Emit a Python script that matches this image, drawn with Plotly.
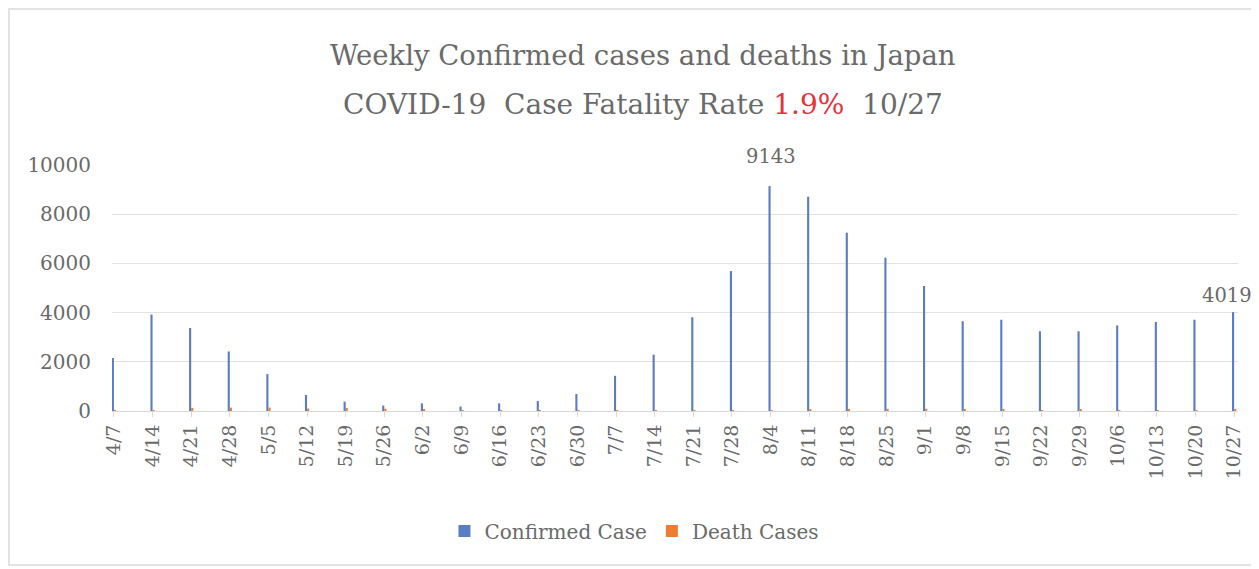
import plotly.graph_objects as go

weeks = ["4/7", "4/14", "4/21", "4/28", "5/5", "5/12", "5/19", "5/26", "6/2", "6/9",
         "6/16", "6/23", "6/30", "7/7", "7/14", "7/21", "7/28", "8/4", "8/11", "8/18",
         "8/25", "9/1", "9/8", "9/15", "9/22", "9/29", "10/6", "10/13", "10/20", "10/27"]
confirmed = [2150, 3920, 3375, 2420, 1500, 650, 380, 220, 310, 180,
             310, 410, 690, 1430, 2290, 3810, 5690, 9143, 8710, 7250,
             6230, 5080, 3650, 3710, 3240, 3240, 3480, 3620, 3710, 4019]
deaths = [30, 40, 127, 137, 140, 100, 120, 90, 50, 20,
          10, 30, 12, 8, 5, 5, 10, 20, 50, 70,
          90, 90, 80, 60, 40, 50, 40, 40, 40, 50]
y_ticks = [0, 2000, 4000, 6000, 8000, 10000]
labelled = [weeks[confirmed.index(max(confirmed))], weeks[-1]]

FONT = "DejaVu Serif"
GREY = "#6a6a6a"
BLUE = "#5b7dc4"
ORANGE = "#ed7d31"

fig = go.Figure()
fig.add_trace(go.Bar(x=weeks, y=confirmed, name="Confirmed Case", showlegend=False,
                     marker=dict(color=BLUE, line=dict(width=0))))
fig.add_trace(go.Bar(x=weeks, y=deaths, name="Death Cases", showlegend=False,
                     marker=dict(color=ORANGE, line=dict(width=0))))
# legend entries with square swatches
fig.add_trace(go.Scatter(x=[None], y=[None], mode="markers", name="Confirmed Case",
                         marker=dict(symbol="square", size=9, color=BLUE)))
fig.add_trace(go.Scatter(x=[None], y=[None], mode="markers", name="Death Cases",
                         marker=dict(symbol="square", size=9, color=ORANGE)))

shifts = {labelled[0]: (0, 30), labelled[1]: (-7, 17)}
for wk in labelled:
    v = confirmed[weeks.index(wk)]
    dx, dy = shifts[wk]
    fig.add_annotation(x=wk, y=v, text=str(v), showarrow=False, xshift=dx, yshift=dy,
                       font=dict(family=FONT, size=19.5, color=GREY), yanchor="middle")

# title
fig.add_annotation(xref="paper", yref="paper", x=0.472, y=1.447, showarrow=False,
                   xanchor="center", yanchor="middle",
                   text="Weekly Confirmed cases and deaths in Japan",
                   font=dict(family=FONT, size=27.5, color=GREY))
fig.add_annotation(xref="paper", yref="paper", x=0.472, y=1.244, showarrow=False,
                   xanchor="center", yanchor="middle",
                   text="COVID-19  Case Fatality Rate <span style='color:#e8313c'>1.9%</span>  10/27",
                   font=dict(family=FONT, size=28, color=GREY))

# outer border
fig.add_shape(type="rect", xref="paper", yref="paper", x0=-0.0915, x1=1.0124,
              y0=-0.626, y1=1.634, line=dict(color="#d9d9d9", width=1.5), layer="below")

fig.update_layout(
    width=1251, height=561,
    margin=dict(l=104, r=21, t=157, b=158),
    paper_bgcolor="white", plot_bgcolor="white",
    barmode="group", bargap=0.89, bargroupgap=0,
    showlegend=True,
    legend=dict(orientation="h", x=0.464, xanchor="center", y=-0.488, yanchor="middle",
                font=dict(family=FONT, size=20, color=GREY),
                traceorder="normal", itemsizing="constant", tracegroupgap=0),
    font=dict(family=FONT, color=GREY),
)
fig.update_xaxes(type="category", range=[-0.05, 29.1], tickangle=-90,
                 tickfont=dict(family=FONT, size=19, color=GREY),
                 showline=True, linecolor="#d9d9d9", linewidth=1,
                 ticks="outside", ticklen=5, tickcolor="#d9d9d9", showgrid=False)
fig.update_yaxes(range=[0, 10000], tickvals=y_ticks, ticktext=[str(t) for t in y_ticks],
                 tickfont=dict(family=FONT, size=20, color=GREY),
                 showgrid=True, gridcolor="#e3e3e3", gridwidth=1, zeroline=False,
                 showline=False, ticks="", ticklabelstandoff=20)

fig.write_html("out.html")
